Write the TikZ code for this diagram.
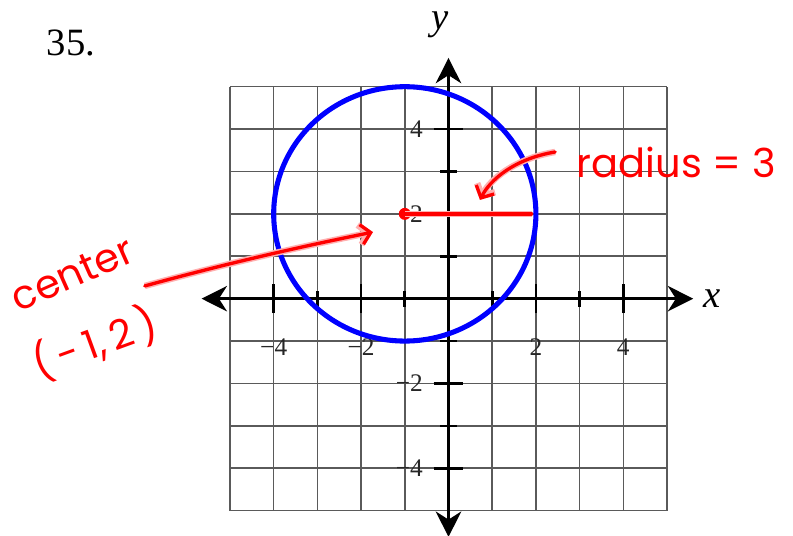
\documentclass[tikz,border=0pt]{standalone}
\usepackage{fontspec}
\setmainfont{Liberation Serif}
\newfontfamily\handfont{Poppins}
\usepackage{xcolor}
\usepackage{tikz}
\usetikzlibrary{positioning, arrows.meta}
\definecolor{penred}{HTML}{FF0000}
\definecolor{penglow}{HTML}{FFB0B0}
\definecolor{ringblue}{HTML}{0000FF}
\definecolor{gridgray}{HTML}{5A5A5A}

\tikzset{
  gridline/.style={draw=gridgray, line width=1.2pt},
  axisline/.style={line width=2.6pt,
    {Stealth[length=19pt, width=19pt, inset=6pt]}-{Stealth[length=19pt, width=19pt, inset=6pt]}},
  majortick/.style={line width=2pt},
  ring/.style={draw=ringblue, line width=3.8pt},
  pen/.style={draw=penred, line width=2.5pt, line cap=round, line join=round,
    preaction={draw=penglow, line width=4.8pt}},
  handtext/.style={text=penred, inner sep=0pt, font=\handfont\fontsize{30}{30}\selectfont},
  numlbl/.style={text=black!85, inner sep=0pt, font=\fontsize{19}{19}\selectfont},
  varlbl/.style={inner sep=0pt, font=\itshape\fontsize{29}{29}\selectfont},
}

\begin{document}
\begin{tikzpicture}[x=32.78pt, y=31.8pt]
  \useasboundingbox (-10.263,-5.597) rectangle (7.883,7.045);

  % grid, axes and ticks
  \foreach \v in {-5,...,5} {
    \draw[gridline] (\v,-5) -- (\v,5);
    \draw[gridline] (-5,\v) -- (5,\v);
  }
  \draw[axisline] (-5.65,0) -- (5.6,0);
  \draw[axisline] (0,-5.62) -- (0,5.68);
  \foreach \v in {-4,-2,2,4} {
    \draw[majortick] (\v,-0.34) -- (\v,0.34);
    \draw[majortick] (-0.34,\v) -- (0.34,\v);
  }
  \foreach \v in {-3,-1,1,3} {
    \draw[majortick] (\v,-0.19) -- (\v,0.19);
    \draw[majortick] (-0.19,\v) -- (0.19,\v);
  }

  % axis numbers
  \foreach \v/\t in {4/4, 2/2, -2/−2, -4/−4} {
    \node[numlbl, anchor=east] (ynum\v) at (-0.58,\v) {\t};
    \node[numlbl] (xnum\v) at (\v,-1.14) {\t};
  }
  \node[varlbl] (xlbl) at (6.03,0) {x};
  \node[varlbl] (ylbl) at (-0.2,6.45) {y};
  \node[inner sep=0pt, font=\fontsize{29}{29}\selectfont] (probnum) at (-8.64,6.03) {35.};

  % the circle
  \draw[ring] (-1,2) circle[x radius=3, y radius=3];

  % red notes
  \node[circle, fill=penred, inner sep=0pt, minimum size=9pt] (ctr) at (-1,2) {};
  \coordinate (redge) at (1.9,2);
  \draw[pen] (ctr.center) -- (redge);

  \node[handtext] (radiuslbl) at (5.21,3.22) {radius = 3};
  \coordinate (rstart) at (2.44,3.46);
  \coordinate (rtip) at (0.72,2.33);
  \draw[pen, -{Straight Barb[length=7pt, width=15pt]}]
    (rstart) .. controls (1.5,3.3) and (0.95,2.8) .. (rtip);

  \node[handtext, rotate=24] (centerlbl) at (-8.61,0.58) {center};
  \node[handtext, rotate=20] (centerxy) at (-8.1,-1.05) {(\,-\,1,\,2\,)};
  \coordinate (cstart) at (-6.95,0.30);
  \coordinate (ctip) at (-1.73,1.57);
  \draw[pen, -{Straight Barb[length=7pt, width=15pt]}]
    (cstart) .. controls (-5,0.85) and (-3.5,1.2) .. (ctip);
\end{tikzpicture}
\end{document}
